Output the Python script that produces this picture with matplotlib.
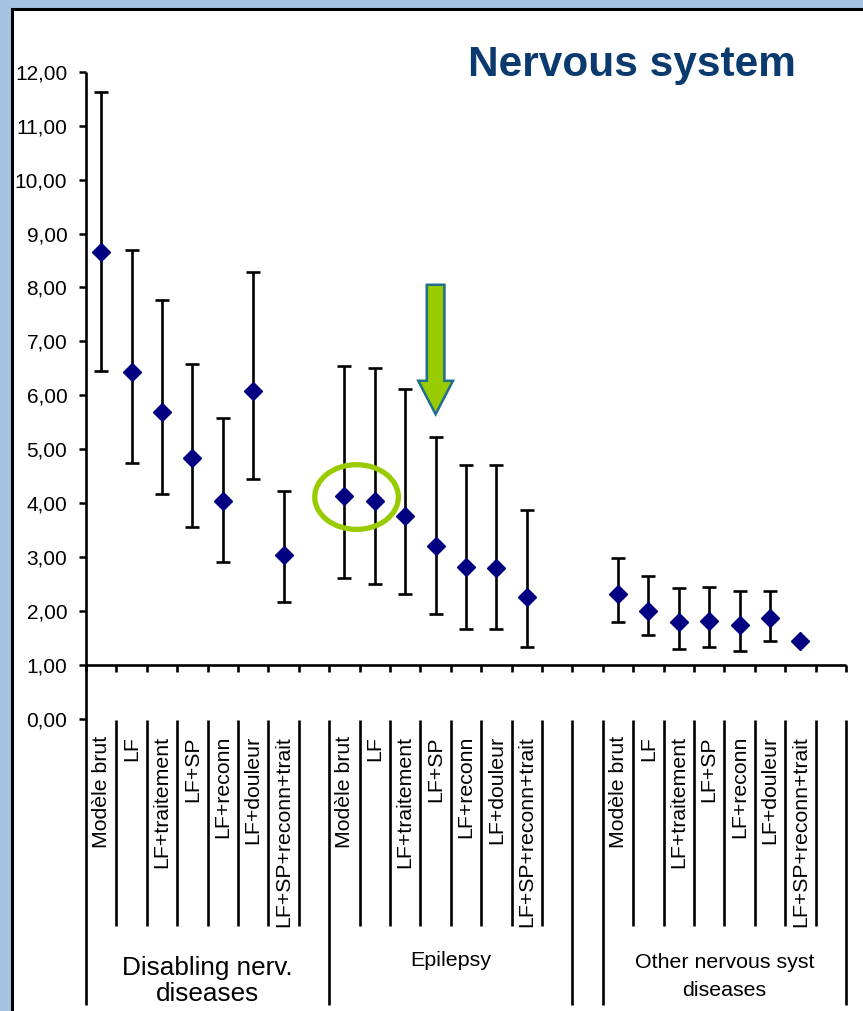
import numpy as np
import matplotlib
matplotlib.use("Agg")
import matplotlib.pyplot as plt
from matplotlib.patches import Rectangle, Ellipse, Polygon

plt.rcParams['font.family'] = ['Liberation Sans', 'DejaVu Sans']

# ---------------- data ----------------
models = ["Modèle brut", "LF", "LF+traitement", "LF+SP", "LF+reconn",
          "LF+douleur", "LF+SP+reconn+trait"]
groups = ["Disabling nerv.\ndiseases", "Epilepsy", "Other nervous syst\ndiseases"]

disabling_val = [8.66, 6.43, 5.69, 4.84, 4.04, 6.08, 3.04]
disabling_low = [6.45, 4.75, 4.17, 3.56, 2.91, 4.45, 2.17]
disabling_up = [11.62, 8.69, 7.77, 6.58, 5.58, 8.29, 4.23]

epilepsy_val = [4.14, 4.05, 3.77, 3.21, 2.81, 2.80, 2.26]
epilepsy_low = [2.61, 2.50, 2.31, 1.94, 1.67, 1.67, 1.33]
epilepsy_up = [6.55, 6.51, 6.11, 5.23, 4.71, 4.71, 3.87]

other_val = [2.32, 2.01, 1.79, 1.82, 1.74, 1.87, 1.45]
other_low = [1.79, 1.56, 1.30, 1.33, 1.26, 1.45, np.nan]
other_up = [2.98, 2.65, 2.42, 2.45, 2.38, 2.38, np.nan]

y_ticks = list(range(0, 13))
title = "Nervous system"

# group start slots (each group = 7 models + 1 blank slot, one blank slot between groups 2 and 3)
group_start = [0, 8, 17]
n_slots = 25

# ---------------- figure ----------------
W, H = 863, 1011
fig = plt.figure(figsize=(W / 100, H / 100), dpi=100, facecolor='#A7C3E2')
fig.add_artist(Rectangle((11.5 / W, -0.05), 1.2, 1.05 - 9 / H, transform=fig.transFigure,
                         facecolor='white', edgecolor='black', linewidth=2.2, zorder=0))

x0, x1 = 86, 846
ytop, ybot = 71.7, 719.0
ax = fig.add_axes([x0 / W, 1 - ybot / H, (x1 - x0) / W, (ybot - ytop) / H])
ax.set_facecolor('none')
ax.set_xlim(0, n_slots)
ax.set_ylim(0, 12)
for s in ax.spines.values():
    s.set_visible(False)

ax.set_yticks(y_ticks)
ax.set_yticklabels([f"{v:.2f}".replace('.', ',') for v in y_ticks], fontsize=15)
ax.tick_params(axis='y', direction='out', length=5, width=1.8, pad=8.5, colors='black')
ax.set_xticks([])

unit = (ybot - ytop) / 12.0  # px per unit
def py(px):  # pixel offset below y=0 converted to data units
    return -px / unit

lk = dict(color='black', lw=1.9, clip_on=False, solid_capstyle='butt')
# vertical axis line
ax.plot([0, 0], [12, py(286)], **lk)
# horizontal axis at 1
ax.plot([0, n_slots], [1, 1], **lk)
for k in range(n_slots + 1):
    ax.plot([k, k], [1, 1 + py(7)], **lk)

# series
vals = [disabling_val, epilepsy_val, other_val]
lows = [disabling_low, epilepsy_low, other_low]
ups = [disabling_up, epilepsy_up, other_up]
for g in range(3):
    xs = np.arange(7) + group_start[g] + 0.5
    v = np.array(vals[g]); lo = np.array(lows[g]); up = np.array(ups[g])
    m = np.isfinite(lo)
    ax.errorbar(xs[m], v[m], yerr=[v[m] - lo[m], up[m] - v[m]], fmt='none',
                ecolor='black', elinewidth=1.9, capsize=5.0, capthick=1.9, zorder=3)
    ax.plot(xs, v, linestyle='none', marker='D', markersize=9.5,
            color='#000080', zorder=4)

# category area
for g in range(3):
    gs = group_start[g]
    for j in range(7):
        ax.text(gs + j + 0.5, py(17), models[j], rotation=90, ha='center', va='top',
                fontsize=15.3, clip_on=False)
    for j in range(1, 8):
        ax.plot([gs + j, gs + j], [py(1), py(207)], **lk)
for b in [8, 16, 17, 25]:
    ax.plot([b, b], [py(1), py(286)], **lk)

ax.text(4.0, py(262), groups[0], ha='center', va='center', fontsize=18.8,
        linespacing=1.15)
ax.text(12.0, py(241), groups[1], ha='center', va='center', fontsize=15.4)
ax.text(21.0, py(257), groups[2], ha='center', va='center', fontsize=15.4,
        linespacing=1.6)

# title
ax.text(17.95, 11.95 + 0.18, title, ha='center', va='center', fontsize=30.5,
        fontweight='bold', color='#0B3A6E')

# highlight ellipse around first two epilepsy estimates
ex = group_start[1] + 1.0
ey = (epilepsy_val[0] + epilepsy_val[1]) / 2
ax.add_patch(Ellipse((ex - 0.1, ey + 0.02), 2.75, 1.2, fill=False,
                     edgecolor='#99CC00', linewidth=3.8, zorder=5))

# arrow pointing to epilepsy LF+SP
axc = group_start[1] + 3 + 0.5
tip = epilepsy_up[3] + 0.42
hb = tip + 0.62
top = tip + 2.4
sw, hw = 0.29, 0.57
ax.add_patch(Polygon([(axc - sw, top), (axc + sw, top), (axc + sw, hb), (axc + hw, hb),
                      (axc, tip), (axc - hw, hb), (axc - sw, hb)], closed=True,
                     facecolor='#99CC00', edgecolor='#1F6E8E', linewidth=1.8, zorder=5))

fig.savefig("out.png", dpi=100, facecolor=fig.get_facecolor())
